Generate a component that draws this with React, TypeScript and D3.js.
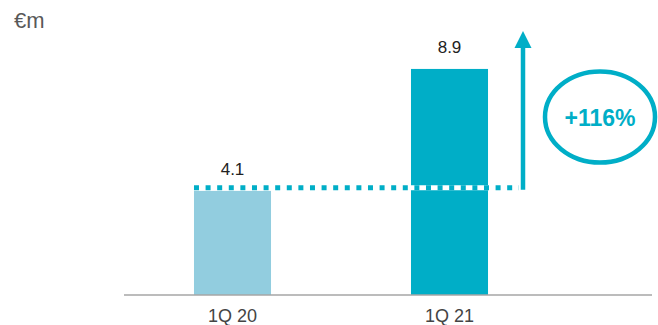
import React from "react";
import * as d3 from "d3";

const categories = ["1Q 20", "1Q 21"];
const values = [4.1, 8.9];
const valueLabels = ["4.1", "8.9"];
const barColors = ["#92CDDF", "#00AEC7"];
const unitLabel = "€m";
const growthLabel = "+116%";

const W = 658;
const H = 325;

export default function App() {
  const x = d3
    .scaleBand<string>()
    .domain(categories)
    .range([124, 558])
    .paddingInner(0.645)
    .paddingOuter(0.3225);
  const y = d3.scaleLinear().domain([0, 10]).range([295, 41]);
  const teal = "#00AEC7";
  const baseY = y(values[0]) - 3;
  const arrowX = 523;
  const lineStart = x(categories[0])!;
  return (
    <svg
      width={W}
      height={H}
      style={{ position: "absolute", left: 0, top: 0 }}
      fontFamily="Liberation Sans, Arial, sans-serif"
    >
      <text x={14} y={28} fontSize={22} fill="#595959">
        {unitLabel}
      </text>
      {categories.map((c, i) => (
        <g key={c}>
          <rect
            x={x(c)}
            y={y(values[i])}
            width={x.bandwidth()}
            height={y(0) - y(values[i])}
            fill={barColors[i]}
          />
          <text
            x={x(c)! + x.bandwidth() / 2}
            y={y(values[i]) - 16}
            fontSize={17}
            textAnchor="middle"
            fill="#222"
          >
            {valueLabels[i]}
          </text>
          <text
            x={x(c)! + x.bandwidth() / 2}
            y={322}
            fontSize={18}
            textAnchor="middle"
            fill="#444"
          >
            {c}
          </text>
        </g>
      ))}
      <line x1={124} x2={652} y1={y(0)} y2={y(0)} stroke="#A6A6A6" strokeWidth={1.5} />
      <line x1={lineStart} x2={arrowX - 4} y1={baseY} y2={baseY} stroke="#fff" strokeWidth={5} />
      <line
        x1={lineStart}
        x2={arrowX - 4}
        y1={baseY}
        y2={baseY}
        stroke={teal}
        strokeWidth={5}
        strokeDasharray="5 6.6"
      />
      <line x1={arrowX} x2={arrowX} y1={y(values[0]) - 1} y2={46} stroke={teal} strokeWidth={4.5} />
      <path
        d={`M${arrowX - 8.5},48 L${arrowX},31 L${arrowX + 8.5},48 Z`}
        fill={teal}
      />
      <ellipse cx={600} cy={117} rx={55} ry={45.5} fill="none" stroke={teal} strokeWidth={4.5} />
      <text
        x={600}
        y={126}
        fontSize={23}
        fontWeight="bold"
        textAnchor="middle"
        fill={teal}
      >
        {growthLabel}
      </text>
    </svg>
  );
}
